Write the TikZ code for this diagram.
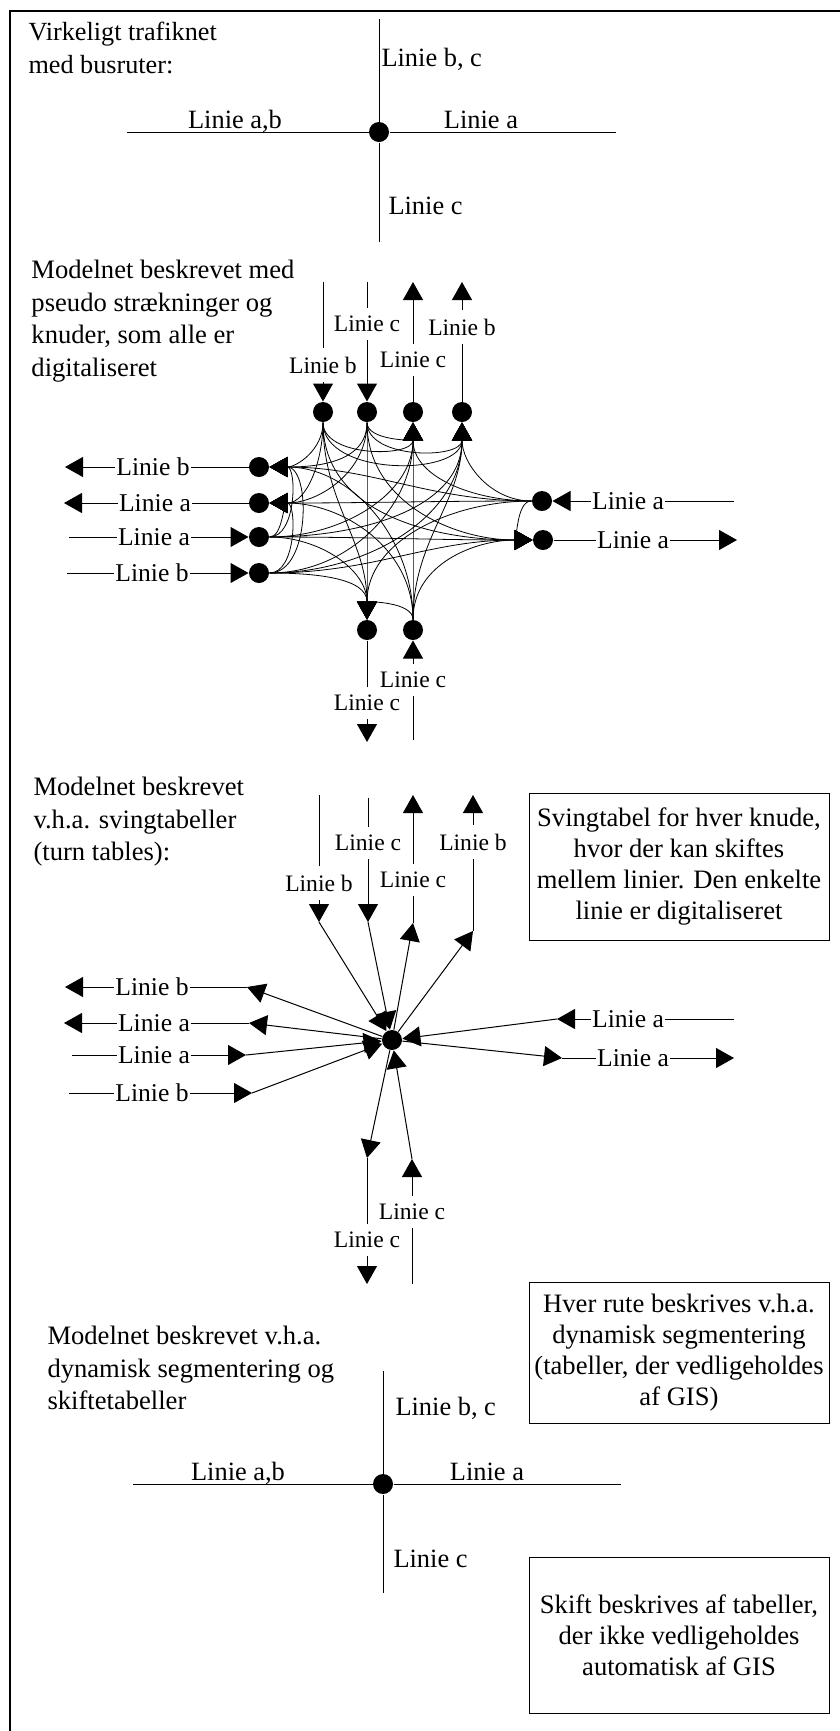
\documentclass[tikz,border=0pt]{standalone}
\usepackage{fontspec}
\setmainfont{Liberation Serif}
\usetikzlibrary{arrows.meta,shadows}

\begin{document}
\begin{tikzpicture}[x=0.5pt, y=0.5pt, line width=0.5pt,
    >={Triangle[length=9pt,width=10pt]},
    dot/.style={circle, fill, inner sep=0pt, minimum size=10pt},
    link/.style={->, line width=0.4pt},
    title/.style={anchor=north west, align=left, inner sep=0pt, font=\fontsize{13.3}{16.25}\selectfont},
    road/.style={inner sep=0pt, font=\fontsize{13.2}{15}\selectfont},
    hlab/.style={inner xsep=0.5pt, inner ysep=4pt, font=\fontsize{12.8}{14}\selectfont},
    vlab/.style={inner xsep=0.5pt, inner ysep=4pt, font=\fontsize{11.8}{14}\selectfont},
    textbox/.style={draw, fill=white, align=center, minimum width=150pt, inner sep=0pt,
        font=\fontsize{13.3}{15.5}\selectfont,
        drop shadow={shadow xshift=0.6pt, shadow yshift=-0.6pt, fill=gray, opacity=1}}]

    \useasboundingbox (0,0) rectangle (840,-1731);
    \draw[line width=1.2pt] (10,-1731) -- (10,-11) -- (840,-11);

    % Real network
    \node[title, font=\fontsize{13.1}{16.5}\selectfont] (title1) at (28,-22) {Virkeligt trafiknet\\med busruter:};
    \node[dot] (K1) at (379,-132) {};
    \coordinate (h1w) at (127,-132);
    \coordinate (h1e) at (616,-132);
    \coordinate (v1n) at (379,-19);
    \coordinate (v1s) at (379,-242);
    \draw (h1w) -- (K1) -- (h1e);
    \draw (v1n) -- (K1) -- (v1s);
    \node[road, anchor=base] (ab1) at (235,-128) {Linie a,b};
    \node[road, anchor=base] (a1) at (481,-128) {Linie a};
    \node[road, anchor=base west] (bc1) at (381,-66) {Linie b, c};
    \node[road, anchor=base west] (c1) at (388,-214) {Linie c};

    % Pseudo links and nodes
    \node[title] (title2) at (31,-260) {Modelnet beskrevet med\\pseudo strækninger og\\knuder, som alle er\\digitaliseret};

    \node[dot] (T1) at (323,-412) {};
    \node[dot] (T2) at (367,-412) {};
    \node[dot] (T3) at (413,-412) {};
    \node[dot] (T4) at (462,-412) {};
    \node[dot] (L1) at (259,-467) {};
    \node[dot] (L2) at (259,-503) {};
    \node[dot] (L3) at (259,-537) {};
    \node[dot] (L4) at (259,-573) {};
    \node[dot] (R1) at (542,-501) {};
    \node[dot] (R2) at (543,-540) {};
    \node[dot] (B1) at (367,-630) {};
    \node[dot] (B2) at (413,-630) {};

    \coordinate (T1e) at (323,-282);
    \node[vlab] (T1l) at (323,-365) {Linie b};
    \draw (T1e) -- (T1l);
    \draw[->] (T1l) -- (T1);
    \coordinate (T2e) at (367,-282);
    \node[vlab] (T2l) at (367,-324) {Linie c};
    \draw (T2e) -- (T2l);
    \draw[->] (T2l) -- (T2);
    \coordinate (T3e) at (413,-282);
    \node[vlab] (T3l) at (413,-360) {Linie c};
    \draw (T3) -- (T3l);
    \draw[->] (T3l) -- (T3e);
    \coordinate (T4e) at (462,-282);
    \node[vlab] (T4l) at (462,-327) {Linie b};
    \draw (T4) -- (T4l);
    \draw[->] (T4l) -- (T4e);

    \coordinate (L1e) at (65,-467);
    \node[hlab] (L1l) at (153,-467) {Linie b};
    \draw (L1) -- (L1l);
    \draw[->] (L1l) -- (L1e);
    \coordinate (L2e) at (64,-503);
    \node[hlab] (L2l) at (155,-503) {Linie a};
    \draw (L2) -- (L2l);
    \draw[->] (L2l) -- (L2e);
    \coordinate (L3e) at (69,-537);
    \node[hlab] (L3l) at (154,-537) {Linie a};
    \draw (L3e) -- (L3l);
    \draw[->] (L3l) -- (L3);
    \coordinate (L4e) at (67,-573);
    \node[hlab] (L4l) at (152,-573) {Linie b};
    \draw (L4e) -- (L4l);
    \draw[->] (L4l) -- (L4);

    \coordinate (R1e) at (734,-501);
    \node[hlab] (R1l) at (628,-501) {Linie a};
    \draw (R1e) -- (R1l);
    \draw[->] (R1l) -- (R1);
    \coordinate (R2e) at (737,-540);
    \node[hlab] (R2l) at (633,-540) {Linie a};
    \draw (R2) -- (R2l);
    \draw[->] (R2l) -- (R2e);

    \node[vlab] (B1l) at (367,-703) {Linie c};
    \coordinate (B1e) at (367,-742);
    \draw (B1) -- (B1l);
    \draw[->] (B1l) -- (B1e);
    \node[vlab] (B2l) at (413,-680) {Linie c};
    \coordinate (B2e) at (413,-740);
    \draw (B2e) -- (B2l);
    \draw[->] (B2l) -- (B2);

    % from T1
    \draw[link] (T1) to[out=270, in=270] (T3);
    \draw[link] (T1) to[out=270, in=270] (T4);
    \draw[link] (T1) to[out=270, in=0] (L1);
    \draw[link] (T1) to[out=270, in=0] (L2);
    \draw[link] (T1) to[out=270, in=180] (R2);
    \draw[link] (T1) to[out=270, in=90] (B1);
    % from T2
    \draw[link] (T2) to[out=270, in=270] (T3);
    \draw[link] (T2) to[out=270, in=270] (T4);
    \draw[link] (T2) to[out=270, in=0] (L1);
    \draw[link] (T2) to[out=270, in=0] (L2);
    \draw[link] (T2) to[out=270, in=180] (R2);
    \draw[link] (T2) to[out=270, in=90] (B1);
    % from L3
    \draw[link] (L3) to[out=0, in=270] (T3);
    \draw[link] (L3) to[out=0, in=270] (T4);
    \draw[link] (L3) to[out=0, in=0] (L1);
    \draw[link] (L3) to[out=0, in=0] (L2);
    \draw[link] (L3) to[out=0, in=180] (R2);
    \draw[link] (L3) to[out=0, in=90] (B1);
    % from L4
    \draw[link] (L4) to[out=0, in=270] (T3);
    \draw[link] (L4) to[out=0, in=270] (T4);
    \draw[link] (L4) to[out=0, in=0] (L1);
    \draw[link] (L4) to[out=0, in=0] (L2);
    \draw[link] (L4) to[out=0, in=180] (R2);
    \draw[link] (L4) to[out=0, in=90] (B1);
    % from R1
    \draw[link] (R1) to[out=180, in=270] (T3);
    \draw[link] (R1) to[out=180, in=270] (T4);
    \draw[link] (R1) to[out=180, in=0] (L1);
    \draw[link] (R1) to[out=180, in=0] (L2);
    \draw[link] (R1) to[out=180, in=180] (R2);
    \draw[link] (R1) to[out=180, in=90] (B1);
    % from B2
    \draw[link] (B2) to[out=90, in=270] (T3);
    \draw[link] (B2) to[out=90, in=270] (T4);
    \draw[link] (B2) to[out=90, in=0] (L1);
    \draw[link] (B2) to[out=90, in=0] (L2);
    \draw[link] (B2) to[out=90, in=180] (R2);
    \draw[link] (B2) to[out=90, in=90] (B1);

    % Turn tables
    \node[title] (title3) at (33,-777) {Modelnet beskrevet\\v.h.a. svingtabeller\\(turn tables):};
    \node[dot] (C) at (392,-1040) {};

    \coordinate (N1e) at (319,-795);
    \node[vlab] (N1l) at (319,-883) {Linie b};
    \coordinate (N1k) at (319,-922);
    \draw (N1e) -- (N1l);
    \draw[->] (N1l) -- (N1k);
    \draw[->] (N1k) -- (C);
    \coordinate (N2e) at (368,-798);
    \node[vlab] (N2l) at (368,-843) {Linie c};
    \coordinate (N2k) at (368,-922);
    \draw (N2e) -- (N2l);
    \draw[->] (N2l) -- (N2k);
    \draw[->] (N2k) -- (C);
    \coordinate (N3k) at (413,-923);
    \node[vlab] (N3l) at (413,-880) {Linie c};
    \coordinate (N3e) at (413,-795);
    \draw[->] (C) -- (N3k);
    \draw (N3k) -- (N3l);
    \draw[->] (N3l) -- (N3e);
    \coordinate (N4k) at (473,-931);
    \node[vlab] (N4l) at (473,-842) {Linie b};
    \coordinate (N4e) at (473,-795);
    \draw[->] (C) -- (N4k);
    \draw (N4k) -- (N4l);
    \draw[->] (N4l) -- (N4e);

    \coordinate (W1k) at (247,-987);
    \node[hlab] (W1l) at (152,-987) {Linie b};
    \coordinate (W1e) at (65,-987);
    \draw[->] (C) -- (W1k);
    \draw (W1k) -- (W1l);
    \draw[->] (W1l) -- (W1e);
    \coordinate (W2k) at (249,-1023);
    \node[hlab] (W2l) at (154,-1023) {Linie a};
    \coordinate (W2e) at (64,-1023);
    \draw[->] (C) -- (W2k);
    \draw (W2k) -- (W2l);
    \draw[->] (W2l) -- (W2e);
    \coordinate (W3e) at (72,-1055);
    \node[hlab] (W3l) at (154,-1055) {Linie a};
    \coordinate (W3k) at (246,-1055);
    \draw (W3e) -- (W3l);
    \draw[->] (W3l) -- (W3k);
    \draw[->] (W3k) -- (C);
    \coordinate (W4e) at (69,-1093);
    \node[hlab] (W4l) at (152,-1093) {Linie b};
    \coordinate (W4k) at (252,-1093);
    \draw (W4e) -- (W4l);
    \draw[->] (W4l) -- (W4k);
    \draw[->] (W4k) -- (C);

    \coordinate (E1e) at (734,-1019);
    \node[hlab] (E1l) at (628,-1019) {Linie a};
    \coordinate (E1k) at (557,-1019);
    \draw (E1e) -- (E1l);
    \draw[->] (E1l) -- (E1k);
    \draw[->] (E1k) -- (C);
    \coordinate (E2k) at (562,-1058);
    \node[hlab] (E2l) at (633,-1058) {Linie a};
    \coordinate (E2e) at (734,-1058);
    \draw[->] (C) -- (E2k);
    \draw (E2k) -- (E2l);
    \draw[->] (E2l) -- (E2e);

    \coordinate (S1k) at (367,-1158);
    \node[vlab] (S1l) at (367,-1240) {Linie c};
    \coordinate (S1e) at (367,-1284);
    \draw[->] (C) -- (S1k);
    \draw (S1k) -- (S1l);
    \draw[->] (S1l) -- (S1e);
    \coordinate (S2e) at (412,-1284);
    \node[vlab] (S2l) at (412,-1212) {Linie c};
    \coordinate (S2k) at (412,-1159);
    \draw (S2e) -- (S2l);
    \draw[->] (S2l) -- (S2k);
    \draw[->] (S2k) -- (C);

    \node[textbox, minimum height=73.5pt] (box1) at (679,-866.5) {Svingtabel for hver knude,\\hvor der kan skiftes\\mellem linier. Den enkelte\\linie er digitaliseret};

    % Dynamic segmentation
    \node[textbox, minimum height=70.5pt] (box2) at (679,-1352.5) {Hver rute beskrives v.h.a.\\dynamisk segmentering\\(tabeller, der vedligeholdes\\af GIS)};
    \node[title] (title4) at (47,-1326) {Modelnet beskrevet v.h.a.\\dynamisk segmentering og\\skiftetabeller};
    \node[dot] (K4) at (383,-1484) {};
    \coordinate (h4w) at (133,-1484);
    \coordinate (h4e) at (621,-1484);
    \coordinate (v4n) at (383,-1371);
    \coordinate (v4s) at (383,-1593);
    \draw (h4w) -- (K4) -- (h4e);
    \draw (v4n) -- (K4) -- (v4s);
    \node[road, anchor=base] (ab4) at (238,-1480) {Linie a,b};
    \node[road, anchor=base] (a4) at (487,-1480) {Linie a};
    \node[road, anchor=base west] (bc4) at (395,-1415) {Linie b, c};
    \node[road, anchor=base west] (c4) at (393,-1567) {Linie c};

    \node[textbox, minimum height=78pt] (box3) at (679,-1635) {Skift beskrives af tabeller,\\der ikke vedligeholdes\\automatisk af GIS};

\end{tikzpicture}
\end{document}
